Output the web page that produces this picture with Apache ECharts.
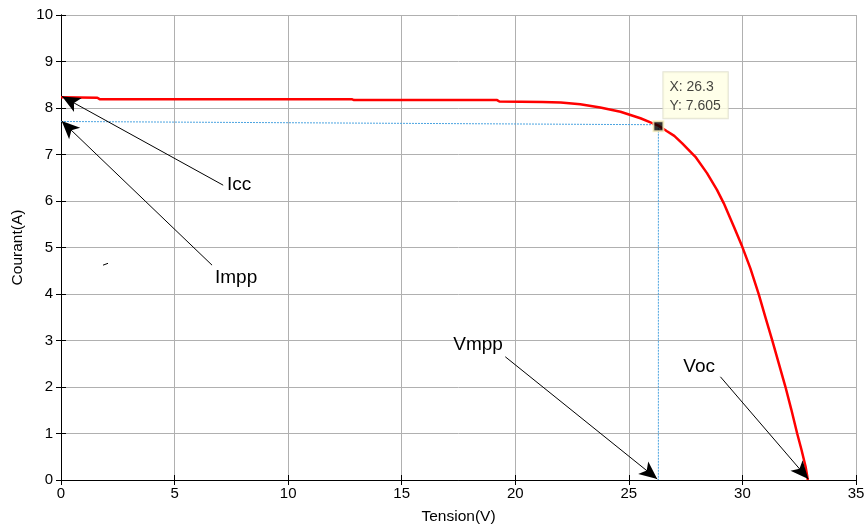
<!DOCTYPE html>
<html>
<head>
<meta charset="utf-8">
<script src="https://cdn.jsdelivr.net/npm/echarts@6/dist/echarts.min.js"></script>
<style>
  html, body { margin: 0; padding: 0; background: #fff; }
  #chart { width: 864px; height: 524px; }
</style>
</head>
<body>
<div id="chart"></div>
<script>
// courbe I(V)
const tension = [0, 1.6, 1.7, 12.8, 12.9, 19.2, 19.3, 21.2, 22.0, 22.86, 23.74, 24.63, 25.51, 25.95, 26.3,
  26.68, 27.0, 27.35, 27.93, 28.44, 28.88, 29.18, 29.62, 29.99, 30.35, 30.72, 31.0, 31.31, 31.6, 31.89,
  32.15, 32.41, 32.6, 32.78, 32.88];
const courant = [8.23, 8.22, 8.19, 8.19, 8.17, 8.17, 8.14, 8.13, 8.12, 8.08, 8.01, 7.92, 7.78, 7.69, 7.62,
  7.50, 7.40, 7.24, 6.95, 6.60, 6.24, 5.95, 5.45, 5.02, 4.55, 3.99, 3.52, 3.01, 2.51, 2.01,
  1.52, 1.0, 0.65, 0.29, 0];

// point de puissance maximale
const mpp = [26.3, 7.605];
const mppLabel = ['X: 26.3', 'Y: 7.605'];
const guideH = [[0, 7.71], [26.3, 7.64]];
const guideV = [[26.3, 7.64], [26.3, 0]];

// annotations : texte, position du texte, départ et pointe de la flèche
const annotNames = ['Icc', 'Impp', 'Vmpp', 'Voc'];
const annotText = [[7.31, 6.34], [6.78, 4.34], [17.27, 2.90], [27.4, 2.43]];
const arrowFrom = [[7.14, 6.34], [6.65, 4.62], [19.56, 2.65], [29.03, 2.22]];
const arrowTo = [[0.05, 8.25], [0.03, 7.72], [26.25, 0.02], [32.9, 0.02]];

const curve = tension.map((v, i) => [v, courant[i]]);

var myChart = echarts.init(document.getElementById('chart'));

const axisBase = {
  type: 'value',
  axisLine: { show: true, lineStyle: { color: '#000', width: 1 } },
  axisTick: { show: true, inside: true, length: 5, lineStyle: { color: '#000' } },
  splitLine: { show: false },
  axisLabel: { show: false }
};

var option = {
  animation: false,
  grid: { left: 61, right: 8, top: 15, bottom: 44, outerBoundsMode: 'none' },
  xAxis: [
    Object.assign({}, axisBase, {
      position: 'bottom', min: 0, max: 35, interval: 5,
      name: 'Tension(V)', nameLocation: 'middle', nameGap: 29,
      nameTextStyle: { fontFamily: 'Liberation Sans', fontSize: 15.5, color: '#000' },
      axisLabel: { show: true, fontFamily: 'Liberation Sans', fontSize: 15, color: '#000', margin: 6 },
      splitLine: { show: true, lineStyle: { color: '#b0b0b0', width: 1 } }
    }),
    Object.assign({}, axisBase, { position: 'top', min: 0, max: 35, interval: 5 })
  ],
  yAxis: [
    Object.assign({}, axisBase, {
      position: 'left', min: 0, max: 10, interval: 1,
      name: 'Courant(A)', nameLocation: 'middle', nameGap: 35,
      nameTextStyle: { fontFamily: 'Liberation Sans', fontSize: 15.5, color: '#000' },
      axisLabel: { show: true, fontFamily: 'Liberation Sans', fontSize: 15, color: '#000', margin: 8 },
      splitLine: { show: true, lineStyle: { color: '#b0b0b0', width: 1 } }
    }),
    Object.assign({}, axisBase, { position: 'right', min: 0, max: 10, interval: 1 })
  ],
  series: [
    {
      type: 'line', data: guideH, symbol: 'none', silent: true,
      lineStyle: { color: '#4aa3e0', width: 1, type: [2, 1] }
    },
    {
      type: 'line', data: guideV, symbol: 'none', silent: true,
      lineStyle: { color: '#4aa3e0', width: 1, type: [2, 1] }
    },
    {
      name: 'I(V)', type: 'line', data: curve, symbol: 'none',
      lineStyle: { color: '#ff0000', width: 2.5 },
      z: 3
    },
    {
      type: 'scatter', data: [mpp], symbol: 'rect', symbolSize: 10, z: 5,
      itemStyle: { color: '#000', borderColor: '#fbf3c0', borderWidth: 2 },
      label: {
        show: true, position: [11, -48], formatter: mppLabel.join('\n'),
        fontFamily: 'Liberation Sans', fontSize: 14, lineHeight: 19, color: '#111',
        backgroundColor: '#ffffe4', borderColor: '#dcdcc8', borderWidth: 1,
        padding: [5, 7, 3, 6]
      }
    },
    {
      type: 'line', data: [], silent: true,
      markLine: {
        silent: true, animation: false,
        symbol: ['none', 'arrow'], symbolSize: [12, 18],
        lineStyle: { color: '#000', width: 1, type: 'solid' },
        label: { show: false },
        data: arrowFrom.map((p, i) => [{ coord: p }, { coord: arrowTo[i] }])
          .concat([[{ coord: [1.85, 4.62], symbol: 'none' }, { coord: [2.07, 4.66], symbol: 'none' }]])
      },
      markPoint: {
        silent: true, symbol: 'circle', symbolSize: 0,
        label: {
          show: true, position: 'right', distance: 0,
          fontFamily: 'Liberation Sans', fontSize: 19, color: '#000'
        },
        data: annotNames.map((n, i) => ({ coord: annotText[i], value: n, label: { formatter: n } }))
      }
    }
  ]
};

myChart.setOption(option);
</script>
</body>
</html>
